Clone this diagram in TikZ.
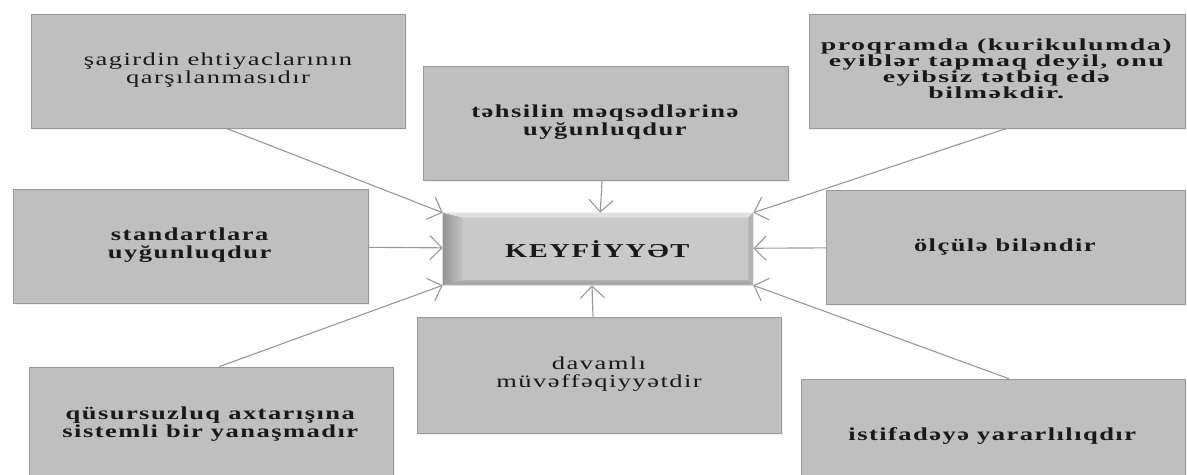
\documentclass[tikz,border=0pt]{standalone}
\usepackage{fontspec}
\setmainfont{Liberation Serif}[FakeStretch=1.45,LetterSpace=8]
\newfontfamily\tightfont{Liberation Serif}[FakeStretch=1.65,LetterSpace=9]
\usetikzlibrary{arrows.meta,positioning,shadows}

\begin{document}
\begin{tikzpicture}[
    auto,
    >={Straight Barb[length=3mm,width=6mm]},
    font=\fontsize{13}{13}\selectfont,
    item/.style={
		rectangle,
		draw=black!40,
		fill=black!25,
		text=black!90,
		text centered,
		minimum height=2.85cm,
		drop shadow={opacity=0.12,shadow xshift=0.05cm,shadow yshift=-0.05cm}
	},
	core/.style={
		rectangle,
		fill=black!21,
		text=black!90,
		minimum width=7.75cm,
		minimum height=1.8cm,
		font=\fontsize{14}{14}\selectfont
	},
	link/.style={
		draw=black!40,
		line width=0.8pt,
		->
	}
  ]
    \useasboundingbox (0,0) rectangle (29.675,-11.875);
    % We start by placing the blocks

  \node [core] (quality) at (14.95,-6.225) {\textbf{KEYFİYYƏT}};

  % bevel of the middle block
  \shade [left color=black!42, right color=black!24]
    (quality.north west) -- ([xshift=0.5cm,yshift=-0.12cm]quality.north west)
    -- ([xshift=0.5cm,yshift=0.12cm]quality.south west) -- (quality.south west) -- cycle;
  \fill [black!12] (quality.north west) -- (quality.north east)
    -- ([xshift=-0.12cm,yshift=-0.12cm]quality.north east)
    -- ([xshift=0.5cm,yshift=-0.12cm]quality.north west) -- cycle;
  \fill [black!30] (quality.north east) -- (quality.south east)
    -- ([xshift=-0.12cm,yshift=0.12cm]quality.south east)
    -- ([xshift=-0.12cm,yshift=-0.12cm]quality.north east) -- cycle;
  \fill [black!34] (quality.south west) -- (quality.south east)
    -- ([xshift=-0.12cm,yshift=0.12cm]quality.south east)
    -- ([xshift=0.5cm,yshift=0.12cm]quality.south west) -- cycle;

  \node [item, minimum width=9.35cm] (needs) at (5.45,-1.775)
 {%
 \begin{tabular}{@{}c@{}}
  şagirdin ehtiyaclarının\\
  qarşılanmasıdır
 \end{tabular}
 };

  \node [item, minimum width=9.125cm] (goals) at (15.14,-3.075)
 {%
 \begin{tabular}{@{}c@{}}
  \textbf{təhsilin məqsədlərinə}\\
  \textbf{uyğunluqdur}
 \end{tabular}
 };

  \node [item, minimum width=9.4cm, font=\tightfont\fontsize{12}{10}\selectfont] (program) at (24.925,-1.775)
 {%
 \begin{tabular}{@{}c@{}}
  \textbf{proqramda (kurikulumda)}\\
  \textbf{eyiblər tapmaq deyil, onu}\\
  \textbf{eyibsiz tətbiq edə}\\
  \textbf{bilməkdir.}
 \end{tabular}
 };

  \node [item, minimum width=8.875cm] (standards) at (4.76,-6.15)
 {%
 \begin{tabular}{@{}c@{}}
  \textbf{standartlara}\\
  \textbf{uyğunluqdur}
 \end{tabular}
 };

  \node [item, minimum width=8.975cm] (measure) at (25.14,-6.175)
 {\textbf{ölçülə biləndir}};

  \node [item, minimum width=9.1cm, minimum height=2.9cm] (search) at (5.275,-10.625)
 {%
 \begin{tabular}{@{}c@{}}
  \textbf{qüsursuzluq axtarışına}\\
  \textbf{sistemli bir yanaşmadır}
 \end{tabular}
 };

  \node [item, minimum width=9.1cm, minimum height=2.9cm] (success) at (14.975,-9.375)
 {%
 \begin{tabular}{@{}c@{}}
  davamlı\\
  müvəffəqiyyətdir
 \end{tabular}
 };

  \node [item, minimum width=9.6cm] (usage) at (24.825,-10.9)
 {\textbf{istifadəyə yararlılıqdır}};

 \draw [link] ([xshift=0.2cm]needs.south) -- (quality.north west);
 \draw [link] (goals) -- (quality);
 \draw [link] ([xshift=0.25cm]program.south) -- (quality.north east);
 \draw [link] (standards) -- (quality);
 \draw [link] (measure) -- (quality);
 \draw [link] ([xshift=0.2cm]search.north) -- (quality.south west);
 \draw [link] ([xshift=-0.15cm]success.north) -- ([xshift=-0.15cm]quality.south);
 \draw [link] ([xshift=0.4cm]usage.north) -- (quality.south east);

\end{tikzpicture}
\end{document}
